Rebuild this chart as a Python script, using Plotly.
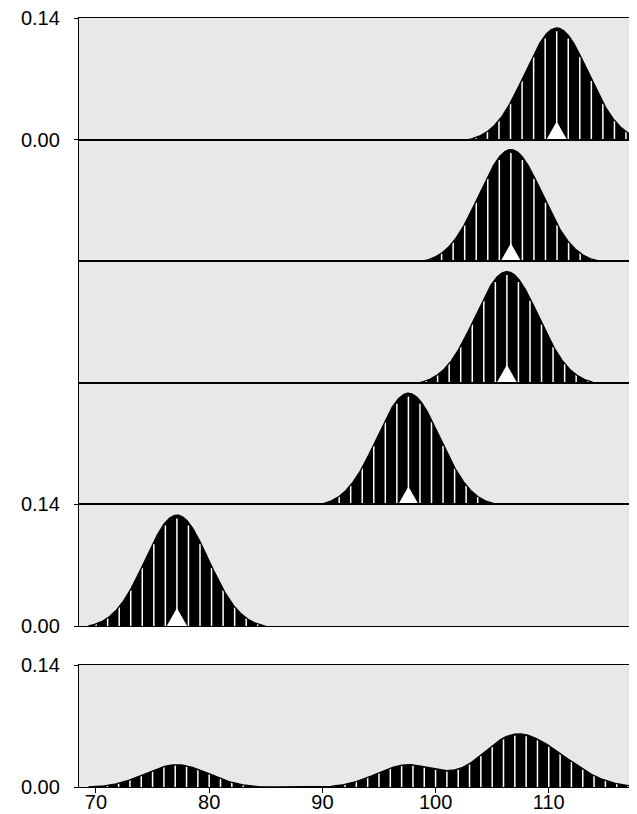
import numpy as np
import plotly.graph_objects as go

# ---- data ----
means = [110.7, 106.65, 106.3, 97.6, 77.15]        # centre (white triangle) of each ridge
sds = [2.8, 2.8, 2.8, 2.8, 2.8]                    # spread of each ridge
peaks = [0.1285, 0.1285, 0.128, 0.128, 0.1277]     # peak height of each ridge
half_spans = [7.8, 7.8, 7.8, 7.8, 7.8]             # visible half-width of each ridge
x_tick_vals = [70, 80, 90, 100, 110]
x_tick_text = ["70", "80", "90", "100", "110"]
y_tick_vals = [0.0, 0.14]
y_tick_text = ["0.00", "0.14"]

X_MIN, X_MAX = 68.5, 118.5
Y_MAX = 0.14

grid = np.linspace(X_MIN, X_MAX, 1501)


def ridge(x, m, s, p, hw):
    x = np.asarray(x, dtype=float)
    e0 = np.exp(-0.5 * (hw / s) ** 2)
    g = np.exp(-0.5 * ((x - m) / s) ** 2)
    v = p * (g - e0) / (1 - e0)
    return np.where(np.abs(x - m) <= hw, np.clip(v, 0, None), 0.0)


# ---- geometry (pixels) ----
W, H = 637, 814
ML, MR, MT, MB = 71, 0, 10, 35
PLOT_H = H - MT - MB
BOTTOM_PIX = H - MB


def frac(pix):
    return (BOTTOM_PIX - pix) / PLOT_H


PANEL = 121.6
domains = []
for i in range(5):
    top = MT + i * PANEL
    domains.append([frac(top + PANEL), frac(top)])
domains.append([0.0, frac(657)])

BG = "#E8E8E8"
HATCH_STEP = 1.02
TRI_HALF = 0.9
TRI_H = 18 / PANEL * Y_MAX

fig = go.Figure()


def add_panel(n, yvals, hatch_x, tri_x=None):
    xa = "x" if n == 1 else f"x{n}"
    ya = "y" if n == 1 else f"y{n}"
    idx = np.where(yvals > 0)[0]
    lo, hi = max(idx[0] - 1, 0), min(idx[-1] + 2, len(grid))
    gx, gy = grid[lo:hi], yvals[lo:hi]
    fig.add_trace(go.Scatter(x=gx, y=gy, mode="lines", fill="tozeroy",
                             fillcolor="black", line=dict(color="black", width=0),
                             xaxis=xa, yaxis=ya, hoverinfo="skip", showlegend=False))
    hx, hy = [], []
    for xv in hatch_x:
        if X_MIN < xv < X_MAX:
            yv = float(np.interp(xv, grid, yvals)) * 0.97
            if yv > 0:
                hx += [xv, xv, None]
                hy += [0, yv, None]
    fig.add_trace(go.Scatter(x=hx, y=hy, mode="lines",
                             line=dict(color="white", width=1.5),
                             xaxis=xa, yaxis=ya, hoverinfo="skip", showlegend=False))
    fig.add_trace(go.Scatter(x=gx, y=gy, mode="lines",
                             line=dict(color="black", width=1.3),
                             xaxis=xa, yaxis=ya, hoverinfo="skip", showlegend=False))
    if tri_x is not None:
        fig.add_trace(go.Scatter(x=[tri_x - TRI_HALF, tri_x + TRI_HALF, tri_x, tri_x - TRI_HALF],
                                 y=[0, 0, TRI_H, 0], mode="lines", fill="toself",
                                 fillcolor="white", line=dict(color="white", width=0),
                                 xaxis=xa, yaxis=ya, hoverinfo="skip", showlegend=False))


curves = []
for i, (m, s, p, hw) in enumerate(zip(means, sds, peaks, half_spans)):
    yv = ridge(grid, m, s, p, hw)
    curves.append(yv)
    hatch = [m + k * HATCH_STEP for k in range(-7, 8)]
    add_panel(i + 1, yv, hatch, tri_x=m)

mix = np.mean(curves, axis=0)
add_panel(6, mix, list(range(69, 119)))

axis_font = dict(family="Liberation Sans, Arial, sans-serif", size=20, color="black")
layout = dict(
    width=W, height=H,
    margin=dict(l=ML, r=MR, t=MT, b=MB),
    paper_bgcolor="white", plot_bgcolor=BG,
    showlegend=False, font=axis_font,
)
for n in range(1, 7):
    xk = "xaxis" if n == 1 else f"xaxis{n}"
    yk = "yaxis" if n == 1 else f"yaxis{n}"
    ya = "y" if n == 1 else f"y{n}"
    xa = "x" if n == 1 else f"x{n}"
    bottom = n == 6
    layout[xk] = dict(domain=[0, 1], range=[X_MIN, X_MAX], anchor=ya,
                      showline=True, mirror=True, linecolor="black", linewidth=1.3,
                      showgrid=False, zeroline=False,
                      ticks="outside" if bottom else "", ticklen=5, tickcolor="black",
                      tickvals=x_tick_vals if bottom else [],
                      ticktext=x_tick_text if bottom else [],
                      showticklabels=bottom, ticklabelstandoff=-8,
                      ticklabeloverflow="allow",
                      tickfont=axis_font)
    show_y = n in (1, 5, 6)
    layout[yk] = dict(domain=domains[n - 1], range=[0, Y_MAX], anchor=xa,
                      showline=True, mirror=False, linecolor="black", linewidth=1.3,
                      showgrid=False, zeroline=False,
                      ticks="outside" if show_y else "", ticklen=4, tickcolor="black",
                      tickvals=y_tick_vals if show_y else [],
                      ticktext=y_tick_text if show_y else [],
                      showticklabels=show_y, ticklabelstandoff=10,
                      ticklabeloverflow="allow",
                      tickfont=axis_font)

fig.update_layout(**layout)
fig.write_html("out.html")
